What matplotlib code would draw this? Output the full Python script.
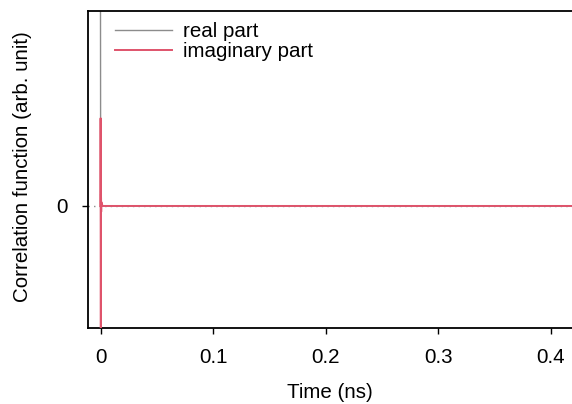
import matplotlib
matplotlib.use('Agg')
import matplotlib.pyplot as plt

# correlation function samples (time in ns)
time_ns = [0.0, 0.0001, 0.0002, 0.0003, 0.0004, 0.0005, 0.0006, 0.0008,
           0.0010, 0.0015, 0.0020, 0.0050, 0.4200]
real_part = [1.00, 0.35, -0.30, -0.20, 0.08, 0.04, -0.03, 0.015,
             0.008, 0.004, 0.0, 0.0, 0.0]
imag_part = [0.00, 0.45, -0.10, -0.70, 0.06, 0.04, -0.03, 0.02,
             0.012, 0.005, 0.0, 0.0, 0.0]

xticks = [0, 0.1, 0.2, 0.3, 0.4]
xticklabels = ['0', '0.1', '0.2', '0.3', '0.4']

plt.rcParams['font.family'] = ['Liberation Sans', 'DejaVu Sans']
plt.rcParams['font.size'] = 14.8

W, H = 572, 404
fig = plt.figure(figsize=(W / 100, H / 100), dpi=100)
#axes box in pixels: left 88, right 572, top 11, bottom 328
ax = fig.add_axes([88 / W, (H - 328) / H, (572 - 88) / W, (328 - 11) / H])

ax.axhline(0, color='#8C8C8C', lw=1.0, ls=(0, (1, 3)), zorder=1)
ax.plot(time_ns, real_part, color='#8C8C8C', lw=1.0, label='real part', zorder=2)
ax.plot(time_ns, imag_part, color='#DF536B', lw=1.4, label='imaginary part', zorder=3)

ax.set_xlim((88 - 100.5) / 1126, (572 - 100.5) / 1126)
ax.set_ylim(-0.626, 1.0)

ax.set_xticks(xticks)
ax.set_xticklabels(xticklabels)
ax.set_yticks([0])
ax.set_yticklabels(['0'])
ax.tick_params(direction='out', length=4.3, width=1.0, pad=10)

for side in ['left', 'top', 'bottom']:
    ax.spines[side].set_linewidth(1.3)
ax.spines['right'].set_visible(False)

ax.set_xlabel('Time (ns)')
ax.xaxis.set_label_coords(0.5, (328 - 392) / 317)
ax.xaxis.label.set_va('center')
ax.set_ylabel('Correlation function (arb. unit)')
ax.yaxis.set_label_coords((23 - 88) / 484, (328 - 167) / 317)
ax.yaxis.label.set_va('center')

ax.legend(loc='upper left', bbox_to_anchor=(115 / W, 1 - 22 / H),
          bbox_transform=fig.transFigure, frameon=False,
          handlelength=2.75, handletextpad=0.55, labelspacing=0.05,
          borderpad=0, borderaxespad=0)

fig.savefig('out.png', dpi=100)
